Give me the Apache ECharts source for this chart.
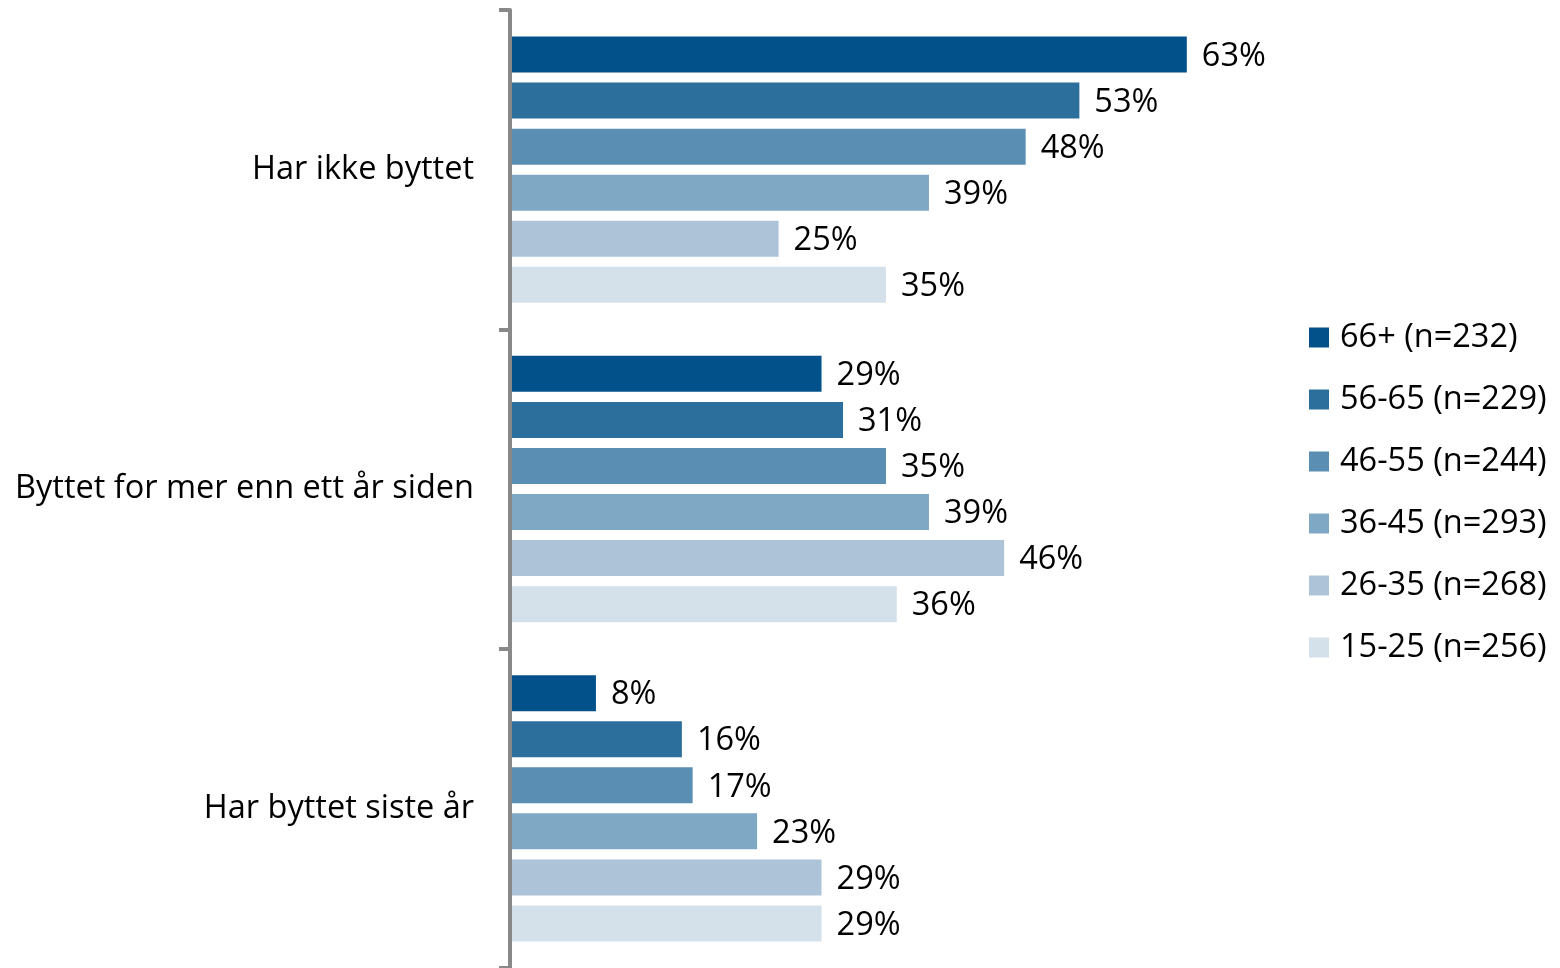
<!DOCTYPE html>
<html>
<head>
<meta charset="utf-8">
<script src="https://cdn.jsdelivr.net/npm/echarts@6/dist/echarts.min.js"></script>
<style>
	html, body { margin: 0; padding: 0; background: #fff; }
	#main { width: 1560px; height: 968px; }
</style>
</head>
<body>
<div id="main"></div>
<script>
// kategorier (topp til bunn)
var categories = ['Har ikke byttet', 'Byttet for mer enn ett år siden', 'Har byttet siste år']
var seriesNames = ['66+ (n=232)', '56-65 (n=229)', '46-55 (n=244)', '36-45 (n=293)', '26-35 (n=268)', '15-25 (n=256)']
var colors = ['#03518A', '#2D6F9C', '#5A8EB3', '#7FA8C5', '#ADC4D8', '#D5E1EA']
var v66 = [63, 29, 8]
var v56 = [53, 31, 16]
var v46 = [48, 35, 17]
var v36 = [39, 39, 23]
var v26 = [25, 46, 29]
var v15 = [35, 36, 29]
var values = [v66, v56, v46, v36, v26, v15]

var font = '"Open Sans", sans-serif'
var fs = 32.5

var series = seriesNames.map(function (name, i) {
	return {
		name: name,
		type: 'bar',
		data: values[i],
		barWidth: 36,
		barGap: '28%',
		itemStyle: { color: colors[i] },
		label: {
			show: true,
			position: 'right',
			distance: 15,
			offset: [0, 2],
			formatter: '{c}%',
			color: '#000',
			fontSize: fs,
			fontFamily: font
		}
	}
})

var option = {
	animation: false,
	color: colors,
	grid: {
		left: 510,
		top: 10,
		width: 752,
		height: 960
	},
	legend: {
		orient: 'vertical',
		left: 1304,
		top: 316,
		itemWidth: 20,
		itemHeight: 20,
		itemGap: 29,
		icon: 'rect',
		data: seriesNames,
		textStyle: {
			fontSize: fs,
			lineHeight: 32,
			color: '#000',
			fontFamily: font,
			padding: [0, 0, 0, 6]
		}
	},
	xAxis: {
		type: 'value',
		min: 0,
		max: 70,
		show: false
	},
	yAxis: {
		type: 'category',
		inverse: true,
		data: categories,
		z: 10,
		axisLine: { show: true, lineStyle: { color: '#898989', width: 4 } },
		axisTick: { show: true, inside: false, length: 11, lineStyle: { color: '#898989', width: 4 } },
		axisLabel: {
			margin: 36,
			fontSize: fs,
			color: '#000',
			fontFamily: font
		}
	},
	series: series
}

var myChart = echarts.init(document.getElementById('main'))
myChart.setOption(option)
</script>
</body>
</html>
